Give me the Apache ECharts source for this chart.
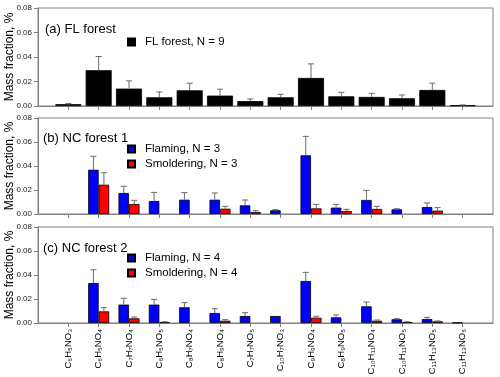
<!DOCTYPE html>
<html>
<head>
<meta charset="utf-8">
<script src="https://cdn.jsdelivr.net/npm/echarts@6/dist/echarts.min.js"></script>
<style>html,body{margin:0;padding:0;background:#fff}#c{width:500px;height:377px}</style>
</head>
<body>
<div id="c"></div>
<script>
// ---- data ----
const categories = ['C6H5NO3','C6H5NO4','C7H7NO4','C6H5NO5','C8H7NO4','C8H9NO4','C7H7NO5','C10H7NO3','C9H9NO4','C8H9NO5','C10H11NO4','C10H11NO5','C11H13NO5','C11H13NO6'];
const yTicks = [0, 0.02, 0.04, 0.06, 0.08];

const flForest    = [0.0015,0.0292,0.0142,0.0071,0.0128,0.0085,0.0040,0.0071,0.0229,0.0079,0.0074,0.0063,0.0131,0.0006];
const flForestErr = [0.0005,0.0112,0.0063,0.0044,0.0058,0.0052,0.0017,0.0025,0.0115,0.0033,0.0030,0.0027,0.0055,0.0003];

const flaming1    = [null,0.0369,0.0175,0.0108,0.0119,0.0119,0.0072,0.0031,0.0489,0.0053,0.0117,0.0039,0.0058,null];
const flaming1Err = [null,0.0112,0.0056,0.0072,0.0059,0.0056,0.0045,0.0005,0.0158,0.0027,0.0080,0.0005,0.0034,null];
const smold1      = [null,0.0244,0.0083,null,null,0.0044,0.0017,null,0.0047,0.0025,0.0042,null,0.0028,null];
const smold1Err   = [null,0.0100,0.0031,null,null,0.0020,0.0011,null,0.0033,0.0014,0.0022,null,0.0025,null];

const flaming2    = [null,0.0333,0.0153,0.0153,0.0131,0.0083,0.0058,0.0058,0.0350,0.0047,0.0139,0.0031,0.0033,0.0003];
const flaming2Err = [null,0.0111,0.0053,0.0044,0.0039,0.0036,0.0028,0,0.0072,0.0020,0.0036,0.0005,0.0014,0];
const smold2      = [null,0.0097,0.0039,0.0008,null,0.0019,null,null,0.0044,null,0.0019,0.0008,0.0014,null];
const smold2Err   = [null,0.0031,0.0011,0.0002,null,0.0009,null,null,0.0012,null,0.0006,0.0002,0.0003,null];

// ---- helpers ----
const FONT = 'Liberation Sans, Arial, sans-serif';
const SUB = {'0':'₀','1':'₁','2':'₂','3':'₃','4':'₄','5':'₅','6':'₆','7':'₇','8':'₈','9':'₉'};
const toSub = s => s.replace(/\d/g, d => SUB[d]);
const padCats = ['', ...categories, ''];
const pad = arr => ['-', ...arr.map(v => v == null ? '-' : v), '-'];
const errData = (vals, errs) => {
  const out = [];
  vals.forEach((v, i) => { if (v != null && errs[i] != null && errs[i] > 0) out.push([i + 1, v, errs[i]]); });
  return out;
};
const errRender = offset => (params, api) => {
  const i = api.value(0), v = api.value(1), e = api.value(2);
  const b = api.coord([i, v]);
  const t = api.coord([i, v + e]);
  const x = b[0] + offset;
  return {type:'group', children:[
    {type:'line', shape:{x1:x, y1:b[1], x2:x, y2:t[1]}, style:{stroke:'#6b6b6b', lineWidth:1}},
    {type:'line', shape:{x1:x-3, y1:t[1], x2:x+3, y2:t[1]}, style:{stroke:'#6b6b6b', lineWidth:1}}
  ]};
};

const grids = [
  {left:38, right:7, top:8, height:98},
  {left:38, right:7, top:118, height:96},
  {left:38, right:7, top:227, height:96}
].map(g => Object.assign(g, {show:true, borderColor:'#808080', borderWidth:1, backgroundColor:'transparent', containLabel:false, outerBoundsMode:'none'}));

const xAxes = [0,1,2].map(k => ({
  type:'category', gridIndex:k, data:padCats, boundaryGap:false,
  axisLine:{lineStyle:{color:'#808080'}},
  axisTick:{show:true, inside:false, length:4, interval:(idx) => idx > 0 && idx < padCats.length - 1, lineStyle:{color:'#808080'}},
  axisLabel: k === 2 ? {show:true, interval:0, rotate:90, margin:6, fontSize:9.5, color:'#000', fontFamily:FONT, formatter: v => toSub(v)} : {show:false},
  splitLine:{show:false}
}));

const yAxes = [0,1,2].map(k => ({
  type:'value', gridIndex:k, min:yTicks[0], max:yTicks[yTicks.length-1], interval:yTicks[1]-yTicks[0],
  name:'Mass fraction, %', nameLocation:'middle', nameGap:22, nameMoveOverlap:false,
  nameTextStyle:{fontSize:12, color:'#000', fontFamily:FONT},
  axisLine:{show:true, lineStyle:{color:'#808080'}},
  axisTick:{show:true, length:4, lineStyle:{color:'#808080'}},
  axisLabel:{fontSize:8, color:'#222', margin:6, fontFamily:FONT, formatter: v => v.toFixed(2)},
  splitLine:{show:false}
}));

const barStyle = c => ({color:c, borderColor:'#000', borderWidth:0.8});
const BW = 10.5;

const option = {
  animation:false,
  textStyle:{fontFamily:FONT},
  grid: grids, xAxis: xAxes, yAxis: yAxes,
  title:[
    {text:'(a) FL forest', left:40, top:18, textStyle:{fontSize:13, fontWeight:'normal', color:'#000', fontFamily:FONT}},
    {text:'(b) NC forest 1', left:38, top:127, textStyle:{fontSize:13, fontWeight:'normal', color:'#000', fontFamily:FONT}},
    {text:'(c) NC forest 2', left:38, top:237, textStyle:{fontSize:13, fontWeight:'normal', color:'#000', fontFamily:FONT}}
  ],
  legend:[
    {data:['FL forest, N = 9'], left:127, top:35},
    {data:['Flaming, N = 3','Smoldering, N = 3'], left:127, top:142},
    {data:['Flaming, N = 4','Smoldering, N = 4'], left:127, top:251}
  ].map(l => Object.assign(l, {orient:'vertical', icon:'rect', itemWidth:7, itemHeight:7, itemGap:1, padding:0,
      textStyle:{fontSize:11.5, color:'#000', fontFamily:FONT, lineHeight:14, padding:[0,0,0,5]}})),
  series:[
    {name:'FL forest, N = 9', type:'bar', xAxisIndex:0, yAxisIndex:0, data:pad(flForest), barWidth:26, itemStyle:barStyle('#000')},
    {type:'custom', xAxisIndex:0, yAxisIndex:0, data:errData(flForest, flForestErr), encode:{x:0, y:1}, renderItem:errRender(0), z:5, silent:true},

    {name:'Flaming, N = 3', type:'bar', xAxisIndex:1, yAxisIndex:1, data:pad(flaming1), barWidth:BW, barGap:'0%', itemStyle:barStyle('#0000ff')},
    {name:'Smoldering, N = 3', type:'bar', xAxisIndex:1, yAxisIndex:1, data:pad(smold1), barWidth:BW, barGap:'0%', itemStyle:barStyle('#ff0000')},
    {type:'custom', xAxisIndex:1, yAxisIndex:1, data:errData(flaming1, flaming1Err), encode:{x:0, y:1}, renderItem:errRender(-BW/2), z:5, silent:true},
    {type:'custom', xAxisIndex:1, yAxisIndex:1, data:errData(smold1, smold1Err), encode:{x:0, y:1}, renderItem:errRender(BW/2), z:5, silent:true},

    {name:'Flaming, N = 4', type:'bar', xAxisIndex:2, yAxisIndex:2, data:pad(flaming2), barWidth:BW, barGap:'0%', itemStyle:barStyle('#0000ff')},
    {name:'Smoldering, N = 4', type:'bar', xAxisIndex:2, yAxisIndex:2, data:pad(smold2), barWidth:BW, barGap:'0%', itemStyle:barStyle('#ff0000')},
    {type:'custom', xAxisIndex:2, yAxisIndex:2, data:errData(flaming2, flaming2Err), encode:{x:0, y:1}, renderItem:errRender(-BW/2), z:5, silent:true},
    {type:'custom', xAxisIndex:2, yAxisIndex:2, data:errData(smold2, smold2Err), encode:{x:0, y:1}, renderItem:errRender(BW/2), z:5, silent:true}
  ]
};
const chart = echarts.init(document.getElementById('c'), null, {renderer:'canvas'});
chart.setOption(option);
</script>
</body>
</html>
